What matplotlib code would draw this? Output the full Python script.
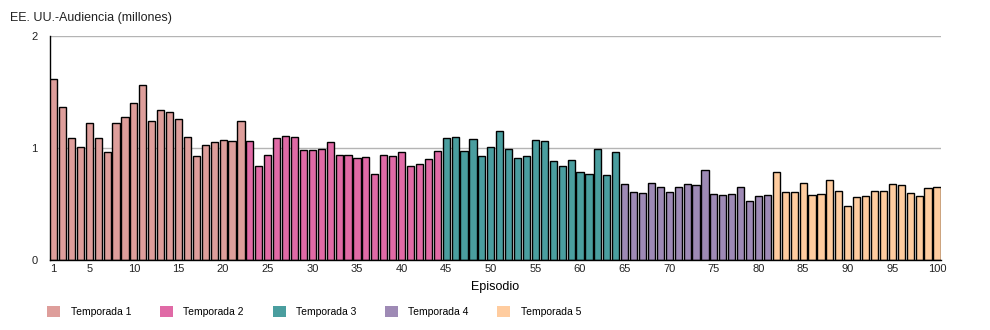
import numpy as np
import matplotlib.pyplot as plt
from matplotlib.patches import Patch

plt.rcParams["font.family"] = ["Liberation Sans", "DejaVu Sans"]

# audience per episode, millions
season_1 = [1.62, 1.37, 1.09, 1.01, 1.22, 1.09, 0.96, 1.22, 1.28, 1.40, 1.56,
            1.24, 1.34, 1.32, 1.26, 1.10, 0.93, 1.03, 1.05, 1.07, 1.06, 1.24]
season_2 = [1.06, 0.84, 0.94, 1.09, 1.11, 1.10, 0.98, 0.98, 0.99, 1.05, 0.94,
            0.94, 0.91, 0.92, 0.77, 0.94, 0.93, 0.96, 0.84, 0.86, 0.90, 0.97]
season_3 = [1.09, 1.10, 0.97, 1.08, 0.93, 1.01, 1.15, 0.99, 0.91, 0.93,
            1.07, 1.06, 0.88, 0.84, 0.89, 0.79, 0.77, 0.99, 0.76, 0.96]
season_4 = [0.68, 0.61, 0.60, 0.69, 0.65, 0.61, 0.65, 0.68, 0.67, 0.80, 0.59,
            0.58, 0.59, 0.65, 0.53, 0.57, 0.58]
season_5 = [0.79, 0.61, 0.61, 0.69, 0.58, 0.59, 0.71, 0.62, 0.48, 0.56, 0.57,
            0.62, 0.62, 0.68, 0.67, 0.60, 0.57, 0.64, 0.65]

seasons = [season_1, season_2, season_3, season_4, season_5]
season_names = ["Temporada 1", "Temporada 2", "Temporada 3", "Temporada 4", "Temporada 5"]
colors = ["#DE9E9B", "#E06AA6", "#4A9E9F", "#9E8AB5", "#FFCC9F"]
x_ticks = [1, 5, 10, 15, 20, 25, 30, 35, 40, 45, 50, 55, 60, 65, 70, 75, 80, 85, 90, 95, 100]

fig = plt.figure(figsize=(9.9, 3.3), dpi=100)
ax = fig.add_axes([49.8 / 990, 1 - 260 / 330, (940.7 - 49.8) / 990, 224 / 330])

start = 1
for vals, col in zip(seasons, colors):
    ep = np.arange(start, start + len(vals))
    ax.bar(ep, vals, width=0.8, color=col, edgecolor="black", linewidth=1, zorder=3)
    start += len(vals)

ax.set_xlim(0.58, 100.42)
ax.set_ylim(0, 2)
ax.set_yticks([0, 1, 2])
ax.set_xticks(x_ticks)
ax.tick_params(axis="both", length=0, labelsize=8, colors="#222222")
ax.tick_params(axis="y", pad=9)
ax.tick_params(axis="x", pad=3)
ax.grid(axis="y", color="#b4b4b4", linewidth=1, zorder=0)

for side in ["top", "right"]:
    ax.spines[side].set_visible(False)
ax.spines["left"].set_linewidth(1)
ax.spines["bottom"].set_linewidth(1)
ax.spines["bottom"].set_zorder(4)

ax.set_xlabel("Episodio", fontsize=9, labelpad=5)
fig.text(10 / 990, 1 - 18 / 330, "EE. UU.-Audiencia (millones)", fontsize=9,
         va="center", ha="left", color="#222222")

handles = [Patch(facecolor=c, edgecolor="none") for c in colors]
fig.legend(handles, season_names, loc="lower left", bbox_to_anchor=(38 / 990, 0.012),
           ncol=5, frameon=False, fontsize=7.5, handlelength=1.25, handleheight=1.25,
           handletextpad=1.0, columnspacing=2.75)

fig.savefig("out.png", dpi=100)
